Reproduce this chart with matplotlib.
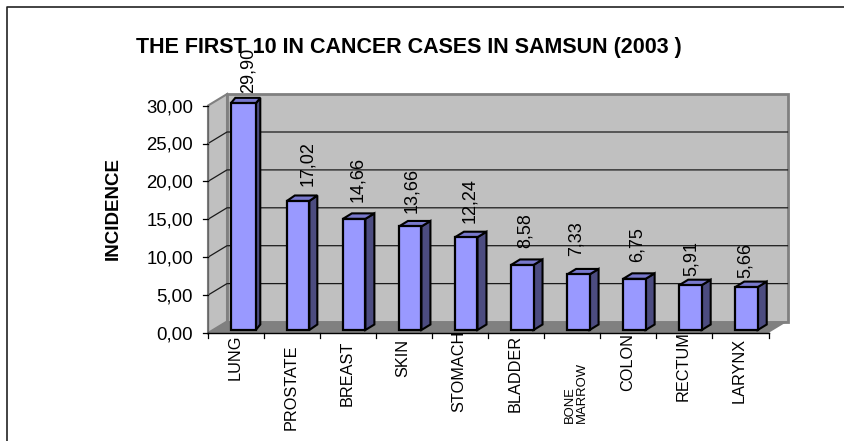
import matplotlib
matplotlib.use('Agg')
import matplotlib.pyplot as plt
from matplotlib.lines import Line2D
from matplotlib.patches import Polygon

plt.rcParams['font.family'] = ['Liberation Sans', 'DejaVu Sans']

categories = ['LUNG', 'PROSTATE', 'BREAST', 'SKIN', 'STOMACH', 'BLADDER',
              'BONE\nMARROW', 'COLON', 'RECTUM', 'LARYNX']
values = [29.90, 17.02, 14.66, 13.66, 12.24, 8.58, 7.33, 6.75, 5.91, 5.66]
value_labels = ['29,90', '17,02', '14,66', '13,66', '12,24', '8,58', '7,33', '6,75', '5,91', '5,66']
y_ticks = [0, 5, 10, 15, 20, 25, 30]
y_tick_labels = ['0,00', '5,00', '10,00', '15,00', '20,00', '25,00', '30,00']

# per-bar layout quirks of the original, in pixels
bar_width_px = [25, 22.5, 22.5, 22.5, 22.5, 22.5, 22.5, 22.5, 22.5, 22.5]
bar_depth_px = [4.5, 8, 9, 9, 9, 9, 9, 9, 9, 9]
label_dx_px = [6, 10, 3, 1, 3, 3, -2, 3, 1, -1]
label_gap_px = [5, 9.5, 11, 8, 9, 11, 13, 11, 4, 3.5]
cat_dx_px = [0, 0, 0, 0, 0, 0, 5, 0, 0, 0]
cat_drop_px = [47, 97, 73, 44, 79, 79, 90, 58, 68, 70]

W, H = 844, 441
PX_X, PX_Y = 56.05, 7.58
fig = plt.figure(figsize=(W / 100, H / 100), dpi=100)
fig.add_artist(Line2D([7 / W, 7 / W, 1], [0, 1 - 7 / H, 1 - 7 / H], transform=fig.transFigure,
                      color='#222222', lw=1.2))

# front plane of the box
ax = fig.add_axes([208 / W, 1 - 333 / H, 10 * PX_X / W, 30 * PX_Y / H])
ax.set_xlim(0, 10)
ax.set_ylim(0, 30)
ax.axis('off')

dx = 19 / PX_X
dy = 11.5 / PX_Y


def poly(pts, fc, ec='none', lw=0, z=1):
    ax.add_patch(Polygon(pts, closed=True, fc=fc, ec=ec, lw=lw, zorder=z, clip_on=False, joinstyle='miter'))


# walls and floor
poly([(dx, dy), (10 + dx, dy), (10 + dx, 30 + dy), (dx, 30 + dy)], '#c0c0c0', '#808080', 2, 1)
poly([(0, 0), (dx, dy), (dx, 30 + dy), (0, 30)], '#c0c0c0', '#808080', 1.5, 1)
poly([(0, 0), (10, 0), (10 + dx, dy), (dx, dy)], '#808080', z=2)

# gridlines
for v in y_ticks[1:-1]:
    ax.plot([0, dx, 10 + dx], [v, v + dy, v + dy], color='#1a1a1a', lw=0.9, zorder=3, clip_on=False)
ax.plot([0, 0], [0, 30], color='#666666', lw=0.9, zorder=4, clip_on=False)
ax.plot([0, 10], [0, 0], color='black', lw=1, zorder=4, clip_on=False)

# axis ticks
for v, lab in zip(y_ticks, y_tick_labels):
    ax.plot([-5 / PX_X, 0], [v, v], color='black', lw=0.9, clip_on=False, zorder=4)
    ax.text(-15 / PX_X, v - 2 / PX_Y, lab, ha='right', va='center', fontsize=13.4)
for i in range(11):
    ax.plot([i, i], [0, -5 / PX_Y], color='black', lw=0.9, clip_on=False, zorder=4)

# bars
y0 = 3 / PX_Y
top_dy = 5.5 / PX_Y
for i, v in enumerate(values):
    cx = i + 0.5 + 6 / PX_X
    x0 = cx - 11.25 / PX_X
    x1 = x0 + bar_width_px[i] / PX_X
    d = bar_depth_px[i] / PX_X
    y1 = v + y0
    poly([(x1, y0), (x1 + d, y0 + top_dy), (x1 + d, y1 + top_dy), (x1, y1)], '#4c4c80', 'black', 1.5, 5)
    poly([(x0, y1), (x1, y1), (x1 + d, y1 + top_dy), (x0 + d, y1 + top_dy)], '#7878cc', 'black', 1.5, 5)
    poly([(x0, y0), (x1, y0), (x1, y1), (x0, y1)], '#9999ff', 'black', 1.6, 6)
    ax.text(cx + label_dx_px[i] / PX_X, y1 + top_dy + label_gap_px[i] / PX_Y, value_labels[i],
            rotation=90, ha='center', va='bottom', fontsize=13, zorder=7)

# category labels
for i, c in enumerate(categories):
    size = 9.4 if '\n' in c else 11.7
    ax.text(i + 0.5 - 1 / PX_X + cat_dx_px[i] / PX_X, -cat_drop_px[i] / PX_Y, c, rotation=90,
            ha='center', va='bottom', ma='left', fontsize=size, linespacing=1.0, zorder=7)

fig.text(409 / W, 1 - 47 / H, 'THE FIRST 10 IN CANCER CASES IN SAMSUN (2003 )', ha='center', va='center',
         fontsize=15.5, fontweight='bold', zorder=8)
fig.text(113 / W, 1 - 208 / H, 'INCIDENCE', rotation=90, ha='center', va='center', fontsize=13.5,
         fontweight='bold')

fig.savefig('out.png', dpi=100)
